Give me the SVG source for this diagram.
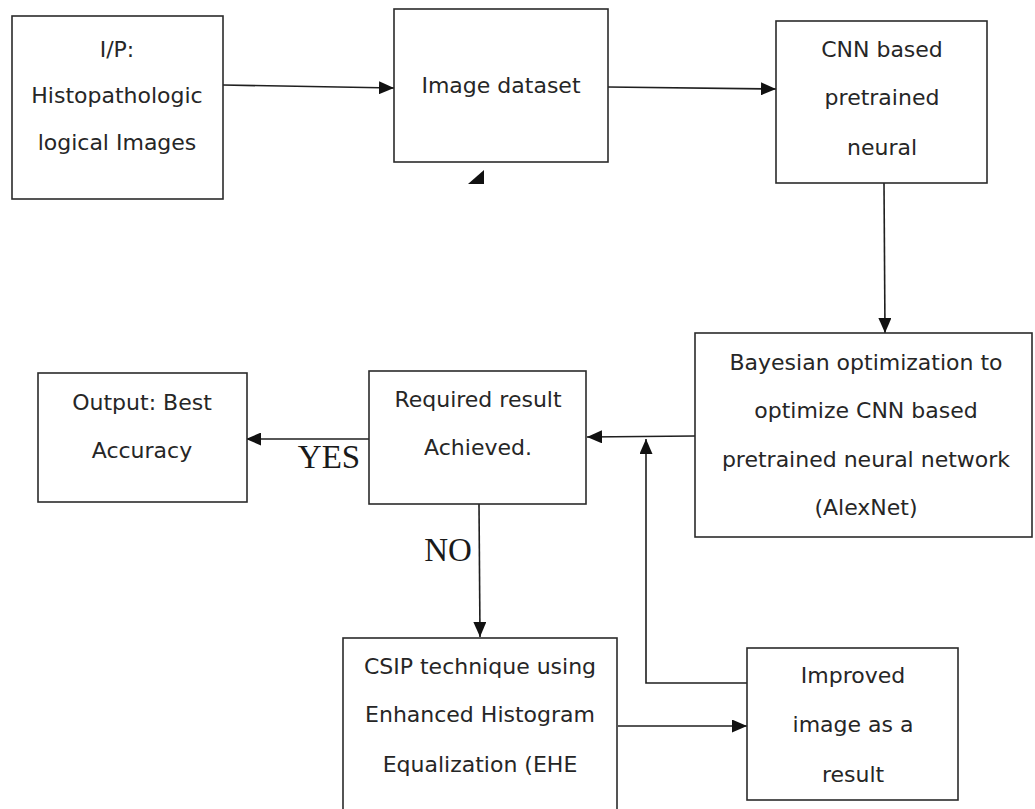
<svg xmlns="http://www.w3.org/2000/svg" width="1035" height="809" viewBox="0 0 1035 809">
<defs>
<style>
.box{fill:#fff;stroke:#2b2b2b;stroke-width:1.6}
.t{font-family:"DejaVu Sans","Liberation Sans",sans-serif;font-size:22px;fill:#262626;text-anchor:middle}
.lbl{font-family:"Liberation Serif","Times New Roman",serif;font-size:33px;fill:#1a1a1a;text-anchor:middle}
.c{fill:none;stroke:#1f1f1f;stroke-width:1.6}
</style>
<marker id="ah" markerUnits="userSpaceOnUse" markerWidth="15" markerHeight="13" refX="15" refY="6.5" orient="auto">
<path d="M0,0 L15,6.5 L0,13 z" fill="#111"/>
</marker>
</defs>
<rect width="1035" height="809" fill="#fff"/>

<g id="connectors">
<path class="c" d="M223,85 L394,88" marker-end="url(#ah)"/>
<path class="c" d="M608,87 L776,89" marker-end="url(#ah)"/>
<path class="c" d="M884,183 L885,333" marker-end="url(#ah)"/>
<path class="c" d="M695,436 L587,437" marker-end="url(#ah)"/>
<path class="c" d="M369,439 L246,439" marker-end="url(#ah)"/>
<path class="c" d="M479,504 L480,637" marker-end="url(#ah)"/>
<path class="c" d="M618,726 L747,726" marker-end="url(#ah)"/>
<path class="c" d="M747,683 L646,683 L646,439" marker-end="url(#ah)"/>
<path d="M484,170 L484,184 L468,184 z" fill="#111"/>
<text class="lbl" x="329" y="468">YES</text>
<text class="lbl" x="448" y="561">NO</text>
</g>

<g id="n_input">
<rect class="box" x="12" y="16" width="211" height="183"/>
<text class="t" x="117" y="57">I/P:</text>
<text class="t" x="117" y="103">Histopathologic</text>
<text class="t" x="117" y="150">logical Images</text>
</g>

<g id="n_dataset">
<rect class="box" x="394" y="9" width="214" height="153"/>
<text class="t" x="501" y="93">Image dataset</text>
</g>

<g id="n_cnn">
<rect class="box" x="776" y="21" width="211" height="162"/>
<text class="t" x="882" y="57">CNN based</text>
<text class="t" x="882" y="105">pretrained</text>
<text class="t" x="882" y="155">neural</text>
</g>

<g id="n_bayes">
<rect class="box" x="695" y="333" width="337" height="204"/>
<text class="t" x="866" y="370">Bayesian optimization to</text>
<text class="t" x="866" y="418">optimize CNN based</text>
<text class="t" x="866" y="467">pretrained neural network</text>
<text class="t" x="866" y="515">(AlexNet)</text>
</g>

<g id="n_required">
<rect class="box" x="369" y="371" width="217" height="133"/>
<text class="t" x="478" y="407">Required result</text>
<text class="t" x="478" y="455">Achieved.</text>
</g>

<g id="n_output">
<rect class="box" x="38" y="373" width="209" height="129"/>
<text class="t" x="142" y="410">Output: Best</text>
<text class="t" x="142" y="458">Accuracy</text>
</g>

<g id="n_csip">
<rect class="box" x="343" y="638" width="274" height="180"/>
<text class="t" x="480" y="674">CSIP technique using</text>
<text class="t" x="480" y="722">Enhanced Histogram</text>
<text class="t" x="480" y="772">Equalization (EHE</text>
</g>

<g id="n_improved">
<rect class="box" x="747" y="648" width="211" height="152"/>
<text class="t" x="853" y="683">Improved</text>
<text class="t" x="853" y="732">image as a</text>
<text class="t" x="853" y="782">result</text>
</g>
</svg>
